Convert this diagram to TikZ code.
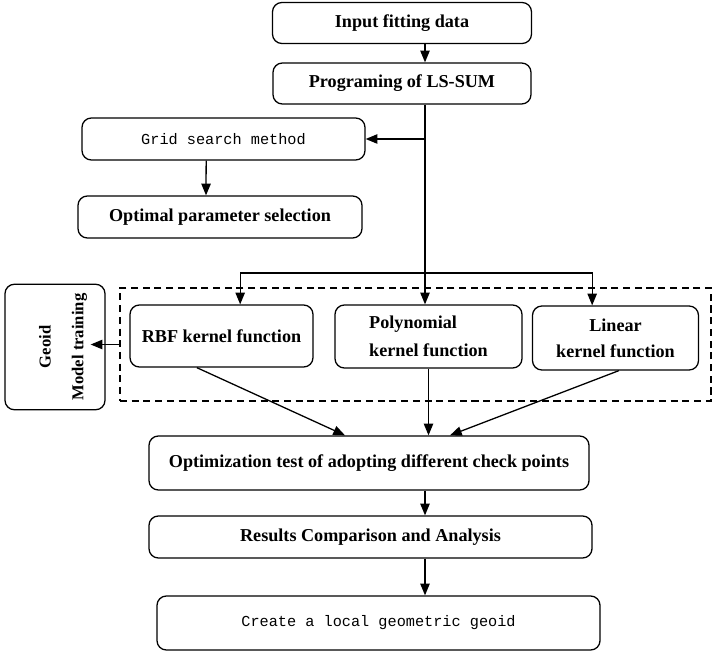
\documentclass[tikz,border=0pt]{standalone}
\usepackage{fontspec}
\setmainfont{Liberation Serif}
\setmonofont{Liberation Mono}
\usepackage{tikz}
\usetikzlibrary{arrows.meta,positioning}

\begin{document}
\begin{tikzpicture}[
    x=0.03cm, y=-0.03cm,
    font=\fontsize{15.5}{18}\selectfont\bfseries,
    block/.style={rectangle, draw, line width=1.1pt, rounded corners=8pt, align=center, inner sep=2pt},
    monoblock/.style={block, font=\fontsize{13}{15}\selectfont\ttfamily},
    group/.style={rectangle, draw, dash pattern=on 6pt off 4pt, line width=1pt},
    arrow/.style={-{Triangle[length=10pt,width=8pt]}, line width=1.1pt}
]
\useasboundingbox (0,0) rectangle (712,651);

% Preparation
\node[block, minimum width=7.77cm, minimum height=1.23cm] (input) at (402,23) {Input fitting data};
\node[block, minimum width=7.74cm, minimum height=1.23cm] (lssum) at (402,83.5) {Programing of LS-SUM};
\node[monoblock, minimum width=8.49cm, minimum height=1.26cm] (grid) at (223.5,139) {Grid search method};
\node[block, minimum width=8.52cm, minimum height=1.26cm] (optimal) at (220,217) {Optimal parameter selection};

% Kernel functions
\node[group, minimum width=17.73cm, minimum height=3.39cm] (kernels) at (415.5,344.5) {};
\node[block, minimum width=5.49cm, minimum height=1.86cm] (rbf) at (221.5,336) {RBF kernel function};
\node[block, minimum width=5.61cm, minimum height=1.89cm, align=left] (poly) at (428.5,336.5) {Polynomial\\[6pt]kernel function};
\node[block, minimum width=4.98cm, minimum height=1.92cm] (linear) at (615.5,338) {Linear\\[4pt]kernel function};
\node[block, minimum width=3.0cm, minimum height=3.54cm, font=\fontsize{14.2}{16}\selectfont\bfseries] (geoid) at (55,347) {\hspace*{0.5cm}\rotatebox{90}{\begin{tabular}{c}Geoid\\[12pt]Model training\end{tabular}}};

% Evaluation
\node[block, minimum width=13.2cm, minimum height=1.62cm] (opttest) at (369,463) {Optimization test of adopting different check points};
\node[block, minimum width=13.29cm, minimum height=1.26cm] (results) at (370.5,537) {Results Comparison and Analysis};
\node[monoblock, minimum width=13.29cm, minimum height=1.62cm] (create) at (378.5,623) {Create a local geometric geoid};

\coordinate (trunk) at (425,273);

% Main flow
\draw[arrow] (input.south -| trunk) -- (lssum.north -| trunk);
\draw[arrow] (lssum.south -| trunk) -- (poly.north -| trunk);
\draw[arrow] (grid.east -| trunk) -- (grid.east);
\draw[arrow] ([xshift=-0.52cm]grid.south) -- ([xshift=-0.42cm]optimal.north);
\draw[arrow] (trunk) -| ([xshift=0.56cm]rbf.north);
\draw[arrow] (trunk) -| ([xshift=-0.7cm]linear.north);
\draw[arrow] (kernels.west) -- ([xshift=-0.45cm]kernels.west -| geoid.east);

% Evaluation flow
\draw[arrow] ([xshift=-0.74cm]rbf.south) -- ([xshift=-0.72cm]opttest.north);
\draw[arrow] (poly.south) -- (poly.south |- opttest.north);
\draw[arrow] ([xshift=0.1cm]linear.south) -- ([xshift=2.43cm]opttest.north);
\draw[arrow] (opttest.south -| trunk) -- (results.north -| trunk);
\draw[arrow] (results.south -| trunk) -- (create.north -| trunk);

\end{tikzpicture}
\end{document}
